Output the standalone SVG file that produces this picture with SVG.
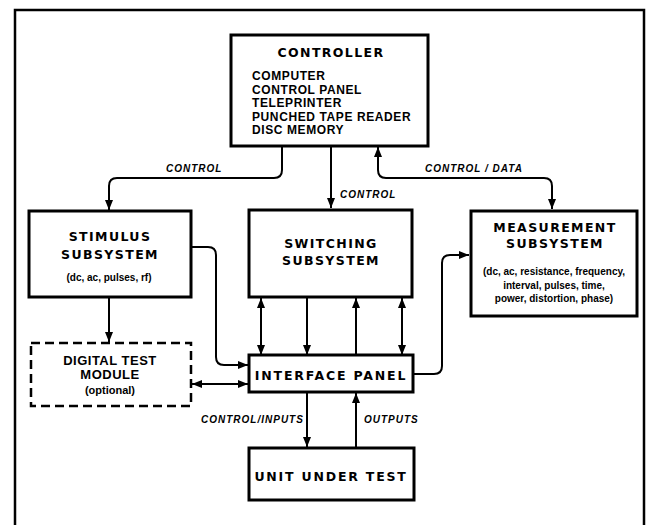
<svg xmlns="http://www.w3.org/2000/svg" width="650" height="525" viewBox="0 0 650 525">
<style>
.box{fill:#fff;stroke:#000;stroke-width:3}
.dash{fill:#fff;stroke:#000;stroke-width:2.5;stroke-dasharray:9,5}
.frame{fill:none;stroke:#000;stroke-width:2.5}
.con{fill:none;stroke:#000;stroke-width:2}
.h{font-family:"DejaVu Sans","Liberation Sans",sans-serif;font-weight:bold;font-size:12.5px;letter-spacing:1.4px;text-anchor:middle}
.t{font-family:"Liberation Sans",Arial,sans-serif;font-weight:bold;font-size:12px;letter-spacing:0.6px}
.s{font-family:"Liberation Sans",Arial,sans-serif;font-weight:bold;font-size:10px;text-anchor:middle}
.m{font-family:"Liberation Sans",Arial,sans-serif;font-weight:bold;font-size:13px;text-anchor:middle;letter-spacing:0.5px}
.l{font-family:"Liberation Sans",Arial,sans-serif;font-weight:bold;font-style:italic;font-size:10px;letter-spacing:1px}
</style>
<defs>
<marker id="ah" viewBox="0 0 10 8" refX="10" refY="4" markerWidth="10" markerHeight="8" markerUnits="userSpaceOnUse" orient="auto-start-reverse">
<path d="M0,0 L10,4 L0,8 z" fill="#000"/>
</marker>
</defs>
<rect width="650" height="525" fill="#fff"/>
<path class="frame" d="M15,530 V10 H644 V530"/>

<g id="connectors">
<path class="con" d="M282,146 V170 Q282,178 274,178 H117 Q109,178 109,186 V210" marker-end="url(#ah)"/>
<path class="con" d="M331,146 V208" marker-end="url(#ah)"/>
<path class="con" d="M378,147 V170 Q378,178 386,178 H544 Q552,178 552,186 V209" marker-start="url(#ah)" marker-end="url(#ah)"/>
<path class="con" d="M191,247 H208 Q216,247 216,255 V357 Q216,365 224,365 H248" marker-end="url(#ah)"/>
<path class="con" d="M109,297 V342" marker-end="url(#ah)"/>
<path class="con" d="M192,384 H248" marker-start="url(#ah)" marker-end="url(#ah)"/>
<path class="con" d="M261,298 V355" marker-start="url(#ah)" marker-end="url(#ah)"/>
<path class="con" d="M307,297 V355" marker-end="url(#ah)"/>
<path class="con" d="M356,355 V298" marker-end="url(#ah)"/>
<path class="con" d="M402,298 V355" marker-start="url(#ah)" marker-end="url(#ah)"/>
<path class="con" d="M413,374 H434 Q442,374 442,366 V263 Q442,255 450,255 H469" marker-end="url(#ah)"/>
<path class="con" d="M307,392 V447" marker-end="url(#ah)"/>
<path class="con" d="M356,448 V393" marker-end="url(#ah)"/>
<text class="l" x="166" y="172">CONTROL</text>
<text class="l" x="340" y="198">CONTROL</text>
<text class="l" x="425" y="172">CONTROL / DATA</text>
<text class="l" x="201" y="423">CONTROL/INPUTS</text>
<text class="l" x="364" y="423">OUTPUTS</text>
</g>

<g id="controller">
<rect class="box" x="231" y="35" width="197" height="111"/>
<text class="h" x="331" y="57">CONTROLLER</text>
<text class="t" x="252" y="80">COMPUTER</text>
<text class="t" x="252" y="93.5">CONTROL PANEL</text>
<text class="t" x="252" y="107">TELEPRINTER</text>
<text class="t" x="252" y="120.5">PUNCHED TAPE READER</text>
<text class="t" x="252" y="134">DISC MEMORY</text>
</g>

<g id="stimulus">
<rect class="box" x="29" y="211" width="162" height="86"/>
<text class="h" x="110" y="241">STIMULUS</text>
<text class="h" x="110" y="259">SUBSYSTEM</text>
<text class="s" x="109" y="281">(dc, ac, pulses, rf)</text>
</g>

<g id="switching">
<rect class="box" x="249" y="210" width="163" height="87"/>
<text class="h" x="331" y="248">SWITCHING</text>
<text class="h" x="331" y="265">SUBSYSTEM</text>
</g>

<g id="measurement">
<rect class="box" x="471" y="211" width="166" height="105"/>
<text class="h" x="555" y="232">MEASUREMENT</text>
<text class="h" x="555" y="248">SUBSYSTEM</text>
<text class="s" x="554" y="275">(dc, ac, resistance, frequency,</text>
<text class="s" x="554" y="289">interval, pulses, time,</text>
<text class="s" x="554" y="302">power, distortion, phase)</text>
</g>

<g id="digital">
<rect class="dash" x="31" y="343" width="160" height="63"/>
<text class="m" x="110" y="365">DIGITAL TEST</text>
<text class="m" x="110" y="379">MODULE</text>
<text class="s" x="110" y="394" style="font-size:11px">(optional)</text>
</g>

<g id="interface">
<rect class="box" x="249" y="355" width="164" height="37"/>
<text class="h" x="331" y="380" style="letter-spacing:1.8px">INTERFACE PANEL</text>
</g>

<g id="uut">
<rect class="box" x="249" y="448" width="165" height="52"/>
<text class="h" x="331" y="481" style="letter-spacing:1.8px">UNIT UNDER TEST</text>
</g>
</svg>
